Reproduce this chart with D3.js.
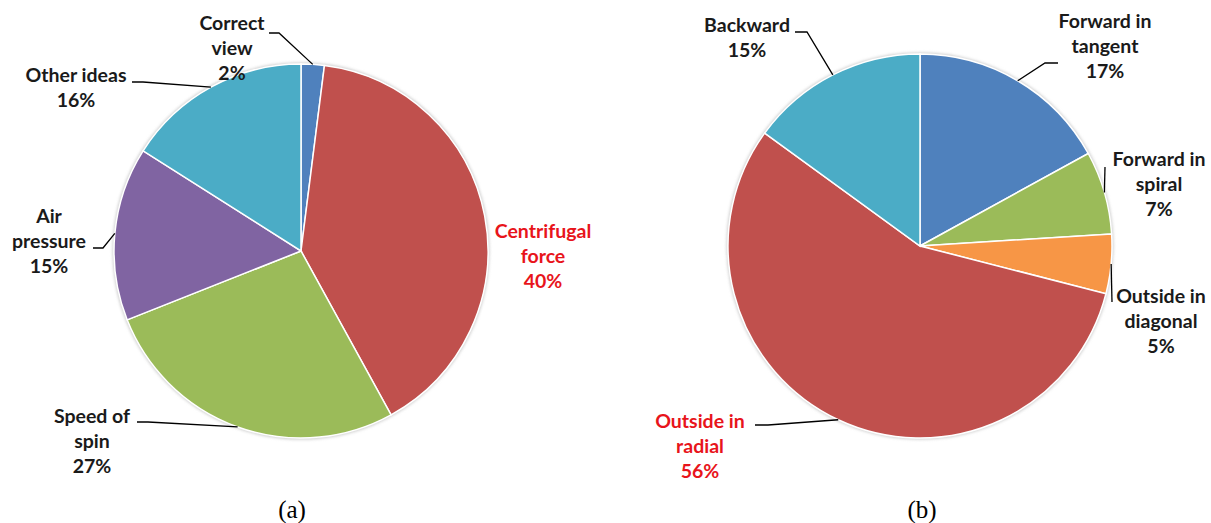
<!DOCTYPE html>
<html>
<head>
<meta charset="UTF-8">
<title>Pie charts (a) and (b)</title>
<script src="https://cdn.jsdelivr.net/npm/d3@7"></script>
<style>
body { margin: 0; background: #fff; }
svg { display: block; }
.lbl { font: bold 19.5px Lato, "Open Sans", sans-serif; fill: #1a1a1a; }
.lbl.hot { fill: #e8141b; }
.cap { font: 25px "Liberation Serif", "DejaVu Serif", serif; fill: #000; }
.leader { fill: none; stroke: #000; stroke-width: 1.3px; }
.slice { stroke: #fff; stroke-width: 1.5px; }
</style>
</head>
<body>
<svg id="chart" width="1211" height="523"></svg>
<script>
// chart (a)
var namesA  = ["Correct view", "Centrifugal force", "Speed of spin", "Air pressure", "Other ideas"];
var valuesA = [2, 40, 27, 15, 16];
var colorsA = ["#4f81bd", "#c0504d", "#9bbb59", "#8064a2", "#4bacc6"];

// chart (b)
var namesB  = ["Forward in tangent", "Forward in spiral", "Outside in diagonal", "Outside in radial", "Backward"];
var valuesB = [17, 7, 5, 56, 15];
var colorsB = ["#4f81bd", "#9bbb59", "#f79646", "#c0504d", "#4bacc6"];

// where Excel put the labels (line breaks, centre x, first baseline, leader elbow)
var layoutA = [
  {lines: ["Correct", "view", "2%"], x: 232, y: 30, elbow: [[269, 33], [279, 33]]},
  {lines: ["Centrifugal", "force", "40%"], x: 543, y: 238, hot: true},
  {lines: ["Speed of", "spin", "27%"], x: 92, y: 423, elbow: [[137, 422], [148, 422]]},
  {lines: ["Air", "pressure", "15%"], x: 49, y: 223, elbow: [[93, 248], [103, 248]]},
  {lines: ["Other ideas", "16%"], x: 76, y: 82, elbow: [[132, 82], [143, 82]]}
];
var layoutB = [
  {lines: ["Forward in", "tangent", "17%"], x: 1105, y: 28, elbow: [[1058, 63], [1045, 63]]},
  {lines: ["Forward in", "spiral", "7%"], x: 1159, y: 166, elbow: [[1105, 167]]},
  {lines: ["Outside in", "diagonal", "5%"], x: 1161, y: 303, elbow: [[1112, 302]]},
  {lines: ["Outside in", "radial", "56%"], x: 700, y: 428, hot: true, elbow: [[755, 425], [768, 425]]},
  {lines: ["Backward", "15%"], x: 747, y: 32, elbow: [[795, 32], [807, 32]]}
];

var svg = d3.select("#chart");

var defs = svg.append("defs");
var f = defs.append("filter").attr("id", "shadow")
    .attr("x", "-10%").attr("y", "-10%").attr("width", "120%").attr("height", "120%");
f.append("feGaussianBlur").attr("stdDeviation", 1.5);

function drawPie(cx, cy, r, names, values, colors, layout, caption) {
  var g = svg.append("g").attr("transform", "translate(" + cx + "," + cy + ")");

  var pie = d3.pie().sort(null).value(function(d) { return d; });
  var arcs = pie(values);
  var arc = d3.arc().innerRadius(0).outerRadius(r);
  var edge = d3.arc().innerRadius(r).outerRadius(r);

  g.append("circle")
      .attr("r", r + 1.5)
      .attr("fill", "#cfcfcf")
      .attr("filter", "url(#shadow)");

  g.selectAll("path.slice")
    .data(arcs)
    .enter().append("path")
      .attr("class", "slice")
      .attr("d", arc)
      .attr("fill", function(d, i) { return colors[i]; })
    .append("title")
      .text(function(d, i) { return names[i] + ": " + values[i] + "%"; });

  // leader lines, ending on the slice's outer edge at its mid angle
  arcs.forEach(function(d, i) {
    var L = layout[i];
    if (!L.elbow) return;
    var p = edge.centroid(d);
    var pts = L.elbow.map(function(q) { return [q[0], q[1]]; });
    pts.push([p[0] + cx, p[1] + cy]);
    svg.append("path")
        .attr("class", "leader")
        .attr("d", d3.line()(pts));
  });

  layout.forEach(function(L) {
    var t = svg.append("text")
        .attr("class", "lbl" + (L.hot ? " hot" : ""))
        .attr("text-anchor", "middle");
    L.lines.forEach(function(s, k) {
      t.append("tspan")
          .attr("x", L.x)
          .attr("y", L.y + k * 25)
          .text(s);
    });
  });

  svg.append("text")
      .attr("class", "cap")
      .attr("text-anchor", "middle")
      .attr("x", caption.x)
      .attr("y", caption.y)
      .text(caption.text);
}

drawPie(301, 251, 187, namesA, valuesA, colorsA, layoutA, {text: "(a)", x: 292, y: 518});
drawPie(920, 246, 192, namesB, valuesB, colorsB, layoutB, {text: "(b)", x: 922, y: 518});
</script>
</body>
</html>
